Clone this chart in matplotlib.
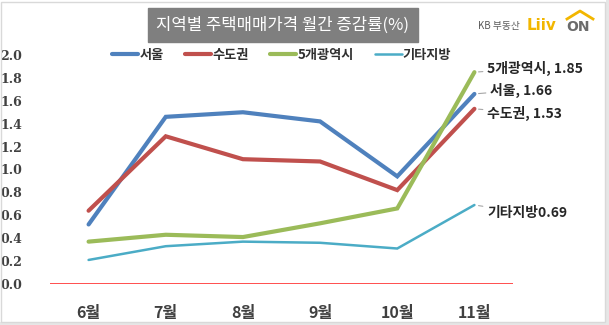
import matplotlib
matplotlib.use("Agg")
import matplotlib.pyplot as plt
from matplotlib.patches import Rectangle

plt.rcParams['font.family'] = ['Noto Sans CJK KR', 'DejaVu Sans']

months = ['6월', '7월', '8월', '9월', '10월', '11월']
seoul = [0.52, 1.46, 1.50, 1.42, 0.94, 1.66]
capital = [0.64, 1.29, 1.09, 1.07, 0.82, 1.53]
metro5 = [0.37, 0.43, 0.41, 0.53, 0.66, 1.85]
others = [0.21, 0.33, 0.37, 0.36, 0.31, 0.69]
yticks = [0.0, 0.2, 0.4, 0.6, 0.8, 1.0, 1.2, 1.4, 1.6, 1.8, 2.0]

series = [
    ('서울', seoul, '#4f81bd', 3.0),
    ('수도권', capital, '#c0504d', 3.0),
    ('5개광역시', metro5, '#9bbb59', 3.0),
    ('기타지방', others, '#4bacc6', 1.8),
]

W, H = 609, 325
fig = plt.figure(figsize=(W / 100, H / 100), dpi=100)
fig.patch.set_facecolor('white')

# outer frame with a soft shadow on the right and bottom edges
fig.add_artist(Rectangle((0, 0), 1, 3 / H, transform=fig.transFigure,
                         facecolor='#e6e6e6', edgecolor='none'))
fig.add_artist(Rectangle((1 - 3 / W, 0), 3 / W, 1, transform=fig.transFigure,
                         facecolor='#e6e6e6', edgecolor='none'))
fig.add_artist(Rectangle((1 / W, 3 / H), 1 - 5 / W, 1 - 5 / H, transform=fig.transFigure,
                         fill=False, edgecolor='#d9d9d9', lw=1.0))

ax = fig.add_axes([50 / W, 1 - 284 / H, (513 - 50) / W, (284 - 55) / H])
x = list(range(len(months)))
for name, vals, col, lw in series:
    ax.plot(x, vals, color=col, lw=lw, label=name, solid_capstyle='round',
            solid_joinstyle='miter')

ax.axhline(0, color='#ff4040', lw=1.3, zorder=1)
ax.set_xlim(-0.5, 5.5)
ax.set_ylim(0, 2.0)
ax.set_yticks(yticks)
ax.set_yticklabels([f'{v:.1f}' for v in yticks], fontsize=9, fontweight='bold',
                   color='#404040', family='DejaVu Serif')
ax.set_xticks(x)
ax.set_xticklabels(months, fontsize=11.5, fontweight='bold', color='#404040')
ax.tick_params(axis='y', length=0, pad=20)
ax.tick_params(axis='x', length=0, pad=15)
for s in ax.spines.values():
    s.set_visible(False)

leg = ax.legend(loc='center', bbox_to_anchor=(0.5, 1.0), ncol=4, frameon=False,
                handlelength=2.0, columnspacing=1.6, handletextpad=0.1,
                prop={'size': 9.5, 'weight': 'bold'})
for t in leg.get_texts():
    t.set_color('#303030')

# end-point labels with short leader lines
labels = [
    ('5개광역시, 1.85', metro5[-1], (487, 68)),
    ('서울, 1.66', seoul[-1], (490, 90)),
    ('수도권, 1.53', capital[-1], (487, 113)),
    ('기타지방0.69', others[-1], (487, 213)),
]
for text, val, (px, py) in labels:
    ax.annotate(text, xy=(5, val), xycoords='data',
                xytext=(px / W, 1 - py / H), textcoords='figure fraction',
                fontsize=10, fontweight='bold', color='#262626', va='center', ha='left',
                arrowprops=dict(arrowstyle='-', color='#a6a6a6', lw=0.8,
                                shrinkA=1, shrinkB=3))

# title box
fig.text(283 / W, 1 - 25 / H, '지역별 주택매매가격 월간 증감률(%)', ha='center', va='center',
         fontsize=12, color='white',
         bbox=dict(boxstyle='square,pad=0.5', facecolor='#7f7f7f', edgecolor='#7f7f7f'))

# brand mark
fig.text(478 / W, 1 - 26 / H, 'KB 부동산', fontsize=7, color='#595959', va='center', ha='left')
fig.text(527 / W, 1 - 26 / H, 'Liiv', fontsize=11, color='#f2b600', fontweight='bold',
         va='center', ha='left', family='DejaVu Sans')
fig.text(566 / W, 1 - 27 / H, 'ON', fontsize=10, color='#6b6b6b', fontweight='bold',
         va='center', ha='left', family='DejaVu Sans')
fig.add_artist(plt.Line2D([567 / W, 580 / W, 593 / W], [1 - 19 / H, 1 - 11 / H, 1 - 19 / H],
                          transform=fig.transFigure, color='#f2b600', lw=2))

fig.savefig('out.png', dpi=100)
